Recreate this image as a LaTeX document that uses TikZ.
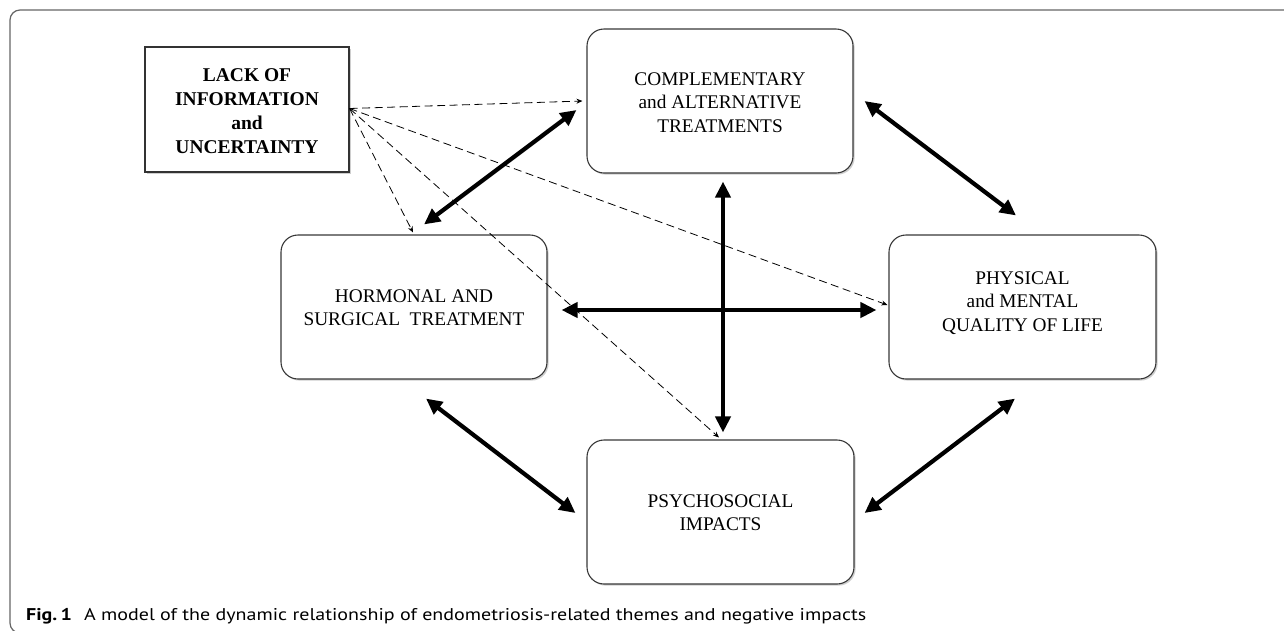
\documentclass[tikz,border=0pt]{standalone}
\usepackage{fontspec}
\usepackage{graphicx}
\setmainfont{Liberation Serif}
\newfontfamily\capfont{PT Sans}
\usetikzlibrary{arrows.meta,shadows,calc}
\tikzset{
  boxstyle/.style={draw=black!78, line width=1.1pt, fill=white, rounded corners=17pt,
    minimum width=266pt, minimum height=144pt, inner sep=0pt,
    drop shadow={shadow xshift=1.6pt, shadow yshift=-1.6pt, opacity=0.35, fill=black!55}},
  lackbox/.style={draw=black!80, line width=1.1pt, fill=white,
    minimum width=204pt, minimum height=125pt, inner sep=0pt,
    drop shadow={shadow xshift=1.6pt, shadow yshift=-1.6pt, opacity=0.35, fill=black!55}},
  boxtext/.style={align=center, inner sep=0pt, font=\fontsize{19.3pt}{23.5pt}\selectfont},
  lacktext/.style={align=center, inner sep=0pt, font=\fontsize{19.5pt}{24pt}\selectfont\bfseries},
  thickarrow/.style={line width=4.2pt, {Triangle[length=16pt,width=15pt]}-{Triangle[length=16pt,width=15pt]}},
  dasharrow/.style={line width=0.8pt, dash pattern=on 8pt off 4.5pt, -{Stealth[length=6pt,width=5pt]}},
  framestyle/.style={draw=black!60, line width=1.2pt, rounded corners=10pt},
}
\begin{document}
\begin{tikzpicture}[x=1pt,y=-1pt]
\useasboundingbox (0,0) rectangle (1284,630);
\clip (0,0) rectangle (1284,630);
\fill[white] (0,0) rectangle (1284,630);
\draw[framestyle] (1300,10) -- (10,10) -- (10,633) -- (1300,633);

% boxes
\node[lackbox] (lack) at (247,109.5) {};
\node[boxstyle] (compl) at (720,101) {};
\node[boxstyle] (horm) at (414,307) {};
\node[boxstyle, minimum width=267pt] (phys) at (1022.5,307) {};
\node[boxstyle, minimum width=267pt] (psy) at (720.5,512) {};

% texts
\node[lacktext] (lackt) at (247,111) {LACK OF\\INFORMATION\\and\\UNCERTAINTY};
\node[boxtext] (complt) at (720,102.5) {COMPLEMENTARY\\and ALTERNATIVE\\TREATMENTS};
\node[boxtext] (hormt) at (414,307.5) {HORMONAL AND\\SURGICAL\ \ TREATMENT};
\node[boxtext] (physt) at (1022.5,303) {PHYSICAL\\and MENTAL\\QUALITY OF LIFE};
\node[boxtext] (psyt) at (720.5,512.5) {PSYCHOSOCIAL\\IMPACTS};

% dashed connectors
\draw[dasharrow] ($(lack.east)+(0,-1)$) -- ($(compl.west)+(-4,0)$);
\draw[dasharrow] ($(lack.east)+(0,-1)$) -- ($(horm.north)+(-1,-2)$);
\draw[dasharrow] ($(lack.east)+(0,-1)$) -- ($(phys.west)+(-1,-2)$);
\draw[dasharrow] ($(lack.east)+(0,-1)$) -- ($(psy.north)+(-1.5,-2)$);

% thick connectors
\draw[thickarrow] ($(horm.north)+(10,-10)$) -- ($(compl.west)+(-10,9)$);
\draw[thickarrow] ($(compl.east)+(11,0)$) -- ($(phys.north)+(-6.5,-19)$);
\draw[thickarrow] ($(horm.east)+(14,3)$) -- ($(phys.west)+(-12,3)$);
\draw[thickarrow] ($(compl.south)+(3,8)$) -- ($(psy.north)+(2.5,-7)$);
\draw[thickarrow] ($(horm.south)+(12,19)$) -- ($(psy.west)+(-11,1)$);
\draw[thickarrow] ($(phys.south)+(-7.5,19)$) -- ($(psy.east)+(10,1)$);

% caption
\node[anchor=base west, inner sep=0pt] (cap) at (26,620)
  {\resizebox{840pt}{\height}{\capfont\fontsize{17pt}{20pt}\selectfont\textbf{Fig.\,1}\hspace{0.6em}A model of the dynamic relationship of endometriosis-related themes and negative impacts}};
\end{tikzpicture}
\end{document}
